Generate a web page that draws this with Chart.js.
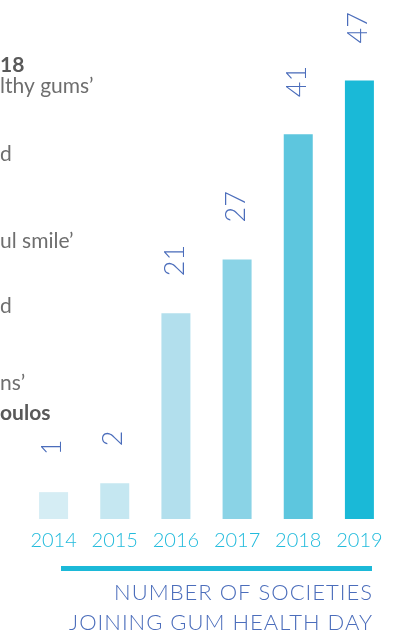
<!DOCTYPE html>
<html>
<head>
<meta charset="utf-8">
<script src="https://cdn.jsdelivr.net/npm/chart.js@4/dist/chart.umd.min.js"></script>
<style>
html,body{margin:0;padding:0;background:#fff;overflow:hidden}
#wrap{position:relative;width:407px;height:635px}
</style>
</head>
<body>
<div id="wrap"><canvas id="c" width="407" height="635"></canvas></div>
<script>
// ---- data ----
const years = ['2014', '2015', '2016', '2017', '2018', '2019'];
const societies = [1, 2, 21, 27, 41, 47];
const titleLines = ['NUMBER OF SOCIETIES', 'JOINING GUM HEALTH DAY'];
const sideTexts = ['18', 'lthy gums\u2019', 'd', 'ul smile\u2019', 'd', 'ns\u2019', 'oulos'];

// ---- styling ----
const barColors = ['#d5edf4', '#c5e7f1', '#b2dfed', '#8ad3e6', '#5dc6de', '#1ab9d7'];
const sideBold = [true, false, false, false, false, false, true];
const sideBaselines = [72, 93, 161, 248, 313, 390, 420];
const FONT = 'Lato, "Open Sans", sans-serif';
const BLUE = '#4b6dbb';
const CYAN = '#22bbdc';

const decor = {
  id: 'decor',
  afterDatasetsDraw(chart) {
    const ctx = chart.ctx;
    const meta = chart.getDatasetMeta(0);
    ctx.save();
    // value labels, rotated
    ctx.fillStyle = BLUE;
    ctx.font = '300 27px ' + FONT;
    ctx.textAlign = 'left';
    ctx.textBaseline = 'middle';
    meta.data.forEach((bar, i) => {
      ctx.save();
      ctx.translate(bar.x - 1, bar.y - 37);
      ctx.rotate(-Math.PI / 2);
      ctx.fillText(String(societies[i]), 0, 0);
      ctx.restore();
    });
    // rule
    ctx.fillStyle = '#1cb9d8';
    ctx.fillRect(61, 566, 311, 5);
    // title
    ctx.fillStyle = BLUE;
    ctx.font = '300 22px ' + FONT;
    ctx.letterSpacing = '1px';
    ctx.textAlign = 'right';
    ctx.textBaseline = 'alphabetic';
    ctx.fillText(titleLines[0], 373, 600);
    ctx.fillText(titleLines[1], 373, 630);
    ctx.letterSpacing = '0px';
    // side text fragments
    ctx.textAlign = 'left';
    sideTexts.forEach((t, i) => {
      ctx.font = (sideBold[i] ? 'bold ' : '') + '21px ' + FONT;
      ctx.fillStyle = sideBold[i] ? '#595959' : '#6e6e6e';
      ctx.fillText(t, 0, sideBaselines[i]);
    });
    ctx.restore();
  }
};

new Chart(document.getElementById('c'), {
  type: 'bar',
  data: {
    labels: years,
    datasets: [{
      data: societies,
      backgroundColor: barColors,
      borderWidth: 0,
      base: -2,
      barPercentage: 0.474,
      categoryPercentage: 1
    }]
  },
  options: {
    responsive: false,
    animation: false,
    layout: { padding: { left: 23, right: 17, top: 0, bottom: 72 } },
    plugins: { legend: { display: false }, tooltip: { enabled: false }, title: { display: false } },
    scales: {
      y: { display: false, min: -2, max: 56 },
      x: {
        grid: { display: false, drawTicks: false },
        border: { display: false },
        ticks: { color: CYAN, padding: 10, font: { family: FONT, size: 20, weight: '300' } }
      }
    }
  },
  plugins: [decor]
});
</script>
</body>
</html>
